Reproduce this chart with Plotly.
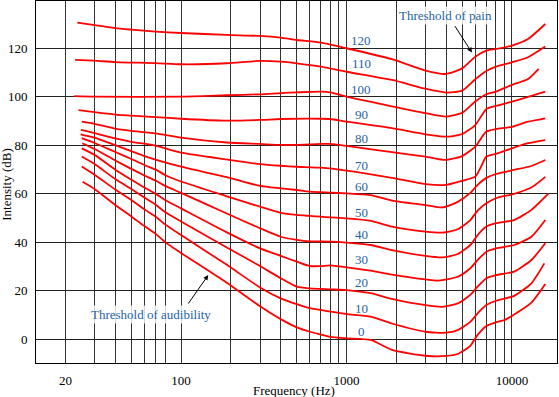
import plotly.graph_objects as go
import math

# ---- data (frequency in Hz, intensity in dB) ----
freq_0 = [25.4, 30, 40, 50, 60, 70, 80, 100, 189, 300, 400, 500, 600, 700, 800, 1000, 1400, 1880, 3000, 4000, 4700, 5600, 6200, 7000, 8000, 9000, 10600, 13100, 15900]
db_0 = [64.9, 61.9, 55.3, 50.6, 46.6, 43.5, 40.0, 35.5, 23.2, 13.5, 8.2, 4.8, 3.0, 1.8, 0.9, 0.3, -0.4, -4.5, -6.9, -7.0, -6.2, -2.8, 1.7, 5.4, 6.9, 7.8, 10.6, 15.0, 22.7]

freq_10 = [25.1, 30, 40, 50, 60, 70, 80, 100, 189, 300, 400, 500, 600, 800, 1000, 1400, 1880, 3000, 4000, 4700, 5600, 6200, 7000, 8000, 10300, 13100, 15700]
db_10 = [71.2, 67.8, 61.7, 57.4, 53.5, 50.6, 47.3, 42.9, 30.6, 21.3, 16.8, 14.4, 12.7, 11.3, 10.3, 9.2, 6.4, 3.0, 2.6, 3.7, 7.1, 10.6, 14.0, 15.8, 17.8, 23.0, 31.2]

freq_20 = [25.1, 30, 40, 50, 60, 70, 80, 100, 189, 300, 400, 500, 600, 800, 1000, 1400, 1880, 3000, 3800, 4700, 5600, 6200, 7000, 8000, 10300, 13100, 15900]
db_20 = [75.3, 72.2, 66.0, 61.9, 58.4, 55.5, 52.4, 48.5, 37.8, 30.1, 25.1, 21.6, 20.9, 20.5, 20.2, 18.9, 16.6, 14.0, 13.3, 14.7, 18.2, 21.6, 25.1, 26.4, 27.8, 32.6, 39.5]

freq_30 = [25.1, 30, 40, 50, 60, 70, 80, 100, 189, 300, 400, 500, 600, 700, 800, 1000, 1400, 1880, 3000, 3600, 4700, 5600, 6200, 7000, 8000, 10300, 13100, 15900]
db_30 = [78.7, 76.0, 69.9, 65.8, 62.5, 60.0, 57.4, 53.9, 44.0, 37.4, 34.3, 31.9, 30.1, 30.1, 30.4, 29.6, 28.2, 26.6, 24.6, 24.1, 25.7, 29.2, 32.6, 36.0, 37.4, 38.8, 42.2, 49.1]

freq_40 = [25.3, 30, 40, 50, 60, 70, 80, 100, 189, 300, 400, 500, 600, 800, 1000, 1400, 1880, 3000, 3800, 4700, 5600, 6200, 7000, 8000, 10300, 13100, 16650]
db_40 = [80.8, 78.4, 73.7, 70.2, 67.5, 65.4, 63.2, 60.3, 51.8, 45.7, 42.2, 40.9, 40.3, 40.2, 39.8, 38.8, 36.7, 34.3, 33.7, 35.1, 38.8, 42.9, 46.4, 47.8, 49.1, 53.3, 60.1]

freq_50 = [25.1, 30, 40, 50, 60, 70, 80, 100, 189, 300, 400, 500, 600, 700, 800, 1000, 1400, 1880, 3000, 3800, 4700, 5600, 6200, 7000, 8000, 10300, 13100, 15900]
db_50 = [82.9, 80.9, 77.2, 74.3, 71.8, 70.0, 67.7, 65.0, 58.9, 54.6, 52.1, 51.2, 50.8, 50.5, 50.2, 49.8, 48.8, 46.4, 44.3, 43.9, 45.3, 49.1, 53.0, 56.0, 58.1, 59.9, 62.5, 66.9]

freq_60 = [24.7, 30, 40, 60, 100, 189, 300, 400, 500, 600, 800, 1000, 1400, 1880, 3000, 3800, 4700, 5600, 6200, 7000, 8000, 10300, 13100, 15900]
db_60 = [84.5, 83.1, 80.0, 75.5, 71.1, 66.8, 63.2, 62.2, 61.5, 60.8, 60.4, 60.1, 59.4, 57.1, 55.3, 54.3, 56.6, 60.3, 63.6, 66.5, 68.1, 69.8, 71.4, 73.9]

freq_70 = [24.8, 30, 40, 50, 70, 100, 189, 300, 400, 500, 700, 1000, 1880, 3000, 4000, 5000, 6000, 6500, 7000, 8000, 10000, 12500, 15900]
db_70 = [86.3, 85.0, 82.8, 81.4, 79.8, 76.9, 74.1, 72.2, 71.5, 71.1, 70.7, 69.5, 66.5, 63.9, 63.6, 65.3, 67.0, 71.1, 75.3, 76.4, 78.7, 80.8, 82.1]

freq_80 = [25.1, 30, 40, 50, 70, 100, 189, 300, 400, 500, 700, 800, 1000, 1880, 3000, 4000, 5000, 6000, 6500, 7000, 8000, 10000, 12500, 15900]
db_80 = [89.7, 88.8, 86.8, 85.9, 84.9, 83.1, 81.1, 80.5, 80.1, 80.1, 80.5, 80.5, 79.7, 77.1, 75.3, 73.9, 75.5, 79.4, 82.8, 85.6, 86.6, 87.6, 89.7, 91.1]

freq_90 = [24.0, 30, 40, 50, 70, 100, 189, 300, 400, 700, 800, 1000, 1880, 3000, 4000, 5000, 6000, 6500, 7000, 8000, 10000, 12500, 15900]
db_90 = [94.5, 93.6, 92.6, 92.2, 91.6, 90.9, 90.1, 90.4, 90.8, 90.9, 90.8, 89.7, 87.0, 84.5, 83.5, 84.6, 88.3, 91.8, 94.9, 96.2, 98.0, 99.9, 102.1]

freq_100 = [22.6, 30, 100, 189, 300, 400, 500, 700, 800, 1000, 1880, 3000, 4000, 5000, 6000, 7000, 8000, 10000, 12500, 14500]
db_100 = [100.2, 100.0, 100.0, 100.6, 101.0, 101.5, 101.8, 102.1, 101.8, 100.0, 96.0, 93.2, 91.8, 93.4, 98.0, 101.0, 102.1, 104.9, 107.3, 111.5]

freq_110 = [22.9, 30, 40, 70, 100, 189, 300, 400, 500, 700, 1000, 1880, 3000, 4000, 5000, 6000, 7000, 8000, 10000, 12500, 15900]
db_110 = [115.2, 114.9, 114.3, 113.9, 113.4, 113.8, 114.8, 114.5, 113.8, 112.4, 110.3, 106.9, 103.3, 101.7, 102.5, 107.2, 110.6, 112.4, 114.2, 116.3, 120.7]

freq_120 = [23.6, 30, 40, 50, 70, 100, 189, 300, 400, 500, 700, 1000, 1880, 3000, 4000, 5000, 6000, 7000, 8000, 10000, 12500, 15900]
db_120 = [130.6, 129.5, 128.3, 127.7, 126.9, 126.3, 125.5, 125.1, 124.4, 123.4, 122.3, 120.0, 115.5, 110.8, 109.4, 111.7, 116.5, 119.0, 119.7, 121.1, 123.8, 130.0]

levels = [0, 10, 20, 30, 40, 50, 60, 70, 80, 90, 100, 110, 120]
level_label_db = [3.0, 12.7, 23.2, 32.9, 43.2, 52.1, 62.9, 71.8, 82.8, 92.5, 102.8, 113.8, 123.4]
level_label_hz = 1225

grid_hz = [20, 30, 40, 50, 60, 70, 80, 100, 200, 300, 400, 500, 600, 700, 800, 900,
           1000, 2000, 3000, 4000, 5000, 6000, 7000, 8000, 9000, 10000]
x_tick_labels = {20: "20", 100: "100", 1000: "1000", 10000: "10000"}
y_ticks = [0, 20, 40, 60, 80, 100, 120]

curves = [(freq_0, db_0), (freq_10, db_10), (freq_20, db_20), (freq_30, db_30),
          (freq_40, db_40), (freq_50, db_50), (freq_60, db_60), (freq_70, db_70),
          (freq_80, db_80), (freq_90, db_90), (freq_100, db_100), (freq_110, db_110),
          (freq_120, db_120)]

FONT = "Liberation Serif"
BLUE = "#2563a3"

fig = go.Figure()
for f, d in curves:
    fig.add_trace(go.Scatter(
        x=f, y=d, mode="lines",
        line=dict(color="#ff0000", width=1.8, shape="spline", smoothing=0.6),
        hoverinfo="skip", showlegend=False))

annotations = []
for lv, yv in zip(levels, level_label_db):
    annotations.append(dict(
        x=math.log10(level_label_hz), y=yv, xref="x", yref="y", text=str(lv),
        xanchor="center", yanchor="middle",
        showarrow=False, font=dict(family=FONT, size=13, color=BLUE)))

# Threshold of pain
annotations.append(dict(x=math.log10(3980), y=133.7, xref="x", yref="y",
                        text="Threshold of pain", showarrow=False,
                        xanchor="center", yanchor="middle",
                        bgcolor="rgba(255,255,255,0.8)",
                        font=dict(family=FONT, size=13, color=BLUE)))
annotations.append(dict(x=math.log10(5730), y=118.2, xref="x", yref="y", text="",
                        showarrow=True, ax=-18, ay=-28, arrowhead=2, arrowsize=1,
                        arrowwidth=1, arrowcolor="#000"))
# Threshold of audibility
annotations.append(dict(x=math.log10(65.4), y=10.3, xref="x", yref="y",
                        text="Threshold of audibility", showarrow=False,
                        xanchor="center", yanchor="middle",
                        bgcolor="rgba(255,255,255,0.8)",
                        font=dict(family=FONT, size=13, color=BLUE)))
annotations.append(dict(x=math.log10(146), y=26.4, xref="x", yref="y", text="",
                        showarrow=True, ax=-21, ay=30, arrowhead=2, arrowsize=1,
                        arrowwidth=1, arrowcolor="#000"))
# axis titles
annotations.append(dict(x=0.496, y=-0.077, xref="paper", yref="paper",
                        text="Frequency (Hz)", showarrow=False,
                        xanchor="center", yanchor="middle",
                        font=dict(family=FONT, size=13, color="#000")))
annotations.append(dict(x=-0.0567, y=0.4936, xref="paper", yref="paper",
                        text="Intensity (dB)", showarrow=False, textangle=-90,
                        xanchor="center", yanchor="middle",
                        font=dict(family=FONT, size=13, color="#000")))

fig.update_layout(
    width=559, height=397,
    margin=dict(l=36, r=2, t=1, b=34),
    paper_bgcolor="white", plot_bgcolor="white",
    annotations=annotations,
    showlegend=False,
)
fig.update_xaxes(
    type="log", range=[1.1231, 4.2721], automargin=False,
    tickmode="array", tickvals=grid_hz,
    ticktext=[x_tick_labels.get(v, "") for v in grid_hz],
    showgrid=True, gridcolor="#333", gridwidth=1,
    showline=True, mirror=True, linecolor="#000", linewidth=1,
    ticks="outside", ticklen=5, tickcolor="rgba(0,0,0,0)",
    tickfont=dict(family=FONT, size=13, color="#000"), zeroline=False)
fig.update_yaxes(
    range=[-9.9, 139.5], automargin=False, tickmode="array", tickvals=y_ticks,
    showgrid=True, gridcolor="#222", gridwidth=1,
    showline=True, mirror=True, linecolor="#000", linewidth=1,
    ticks="outside", ticklen=5, tickcolor="rgba(0,0,0,0)",
    tickfont=dict(family=FONT, size=13, color="#000"), zeroline=False)

fig.write_html("out.html", config={"displayModeBar": False},
               post_script="document.body.style.margin='0px';")
